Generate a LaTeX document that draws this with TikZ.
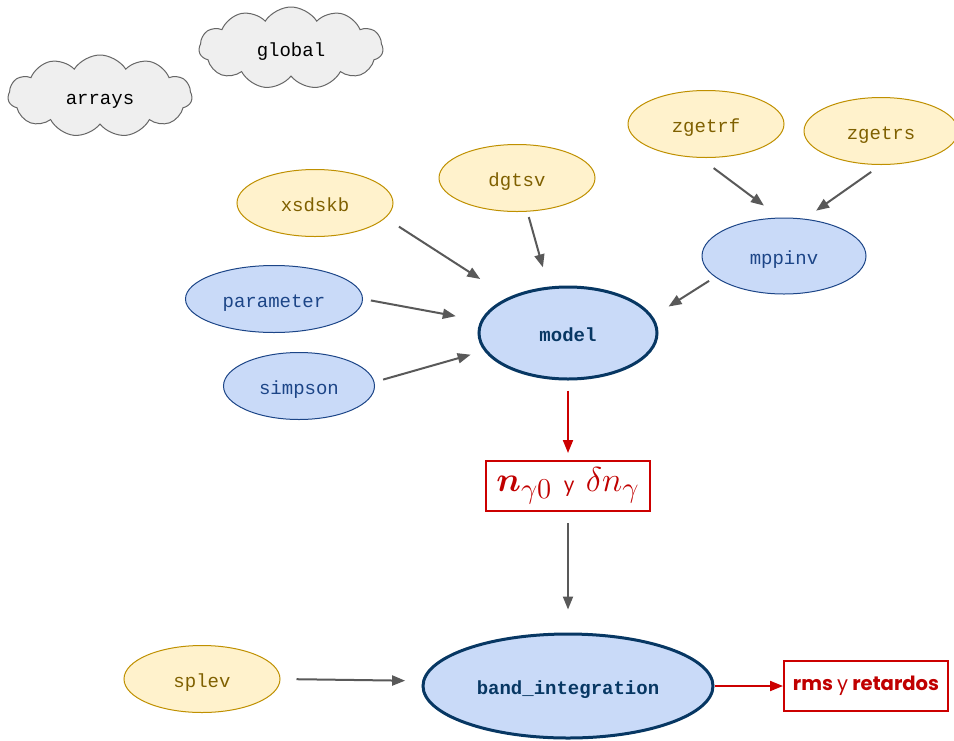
\documentclass[tikz,border=0pt]{standalone}
\usepackage{amsmath,amssymb}
\usepackage{fontspec}
\setmonofont{Liberation Mono}
\newfontfamily\poppins{Poppins}
\usepackage{tikz}
\usetikzlibrary{arrows.meta,shapes.geometric,shapes.symbols}
\definecolor{routfill}{RGB}{255,242,204}
\definecolor{routdraw}{RGB}{191,144,0}
\definecolor{routtext}{RGB}{127,96,0}
\definecolor{modfill}{RGB}{201,218,248}
\definecolor{moddraw}{RGB}{28,69,135}
\definecolor{navyblue}{RGB}{7,55,99}
\definecolor{cloudfill}{RGB}{239,239,239}
\definecolor{clouddraw}{RGB}{102,102,102}
\definecolor{darkred}{RGB}{192,0,0}
\definecolor{boxred}{RGB}{204,0,0}
\definecolor{arrowgray}{RGB}{89,89,89}
\tikzset{
  routine/.style={ellipse, draw=routdraw, fill=routfill, text=routtext, line width=0.5pt,
                  inner sep=0pt, minimum width=78pt, minimum height=33.5pt,
                  text height=10pt, text depth=2pt,
                  font=\ttfamily\fontsize{9.5}{11}\selectfont},
  subrout/.style={routine, draw=moddraw, fill=modfill, text=moddraw},
  mainrout/.style={subrout, draw=navyblue, text=navyblue, line width=1.5pt,
                   font=\ttfamily\bfseries\fontsize{9.5}{11}\selectfont},
  datacloud/.style={cloud, cloud puffs=11, cloud puff arc=115, aspect=2.2, draw=clouddraw,
                    fill=cloudfill, line width=0.5pt, inner sep=0pt, minimum width=92pt,
                    minimum height=41pt, text height=10pt, text depth=2pt,
                    font=\ttfamily\fontsize{9.5}{11}\selectfont},
  resbox/.style={rectangle, draw=boxred, text=darkred, line width=1pt, inner sep=0pt,
                 minimum width=82pt, minimum height=25pt},
  arrow/.style={-{Triangle[length=6.5pt,width=5pt]}, line width=1pt, arrowgray},
  arrowred/.style={arrow, boxred},
}

\begin{document}
\begin{tikzpicture}[x=0.5pt, y=-0.5pt]
\useasboundingbox (0,0) rectangle (954,740);

% common blocks
\node[datacloud] (arrays) at (100,96) {arrays};
\node[datacloud] (global) at (291,48) {global};

% library routines
\node[routine] (zgetrf) at (706,124) {zgetrf};
\node[routine, minimum width=77pt] (zgetrs) at (881,131) {zgetrs};
\node[routine] (dgtsv) at (517,178) {dgtsv};
\node[routine] (xsdskb) at (315,203) {xsdskb};
\node[routine] (splev) at (202,679) {splev};

% own routines
\node[subrout, minimum width=82pt, minimum height=38pt] (mppinv) at (784,256) {mppinv};
\node[subrout, minimum width=88.5pt] (parameter) at (274,299) {parameter};
\node[subrout, minimum width=75.5pt] (simpson) at (299,386) {simpson};
\node[mainrout, minimum width=89pt, minimum height=46pt] (model) at (568,333) {model};
\node[mainrout, minimum width=145pt, minimum height=52pt] (band) at (568,686) {band\_integration};

% results
\node[resbox] (ngamma) at (568,486) {\fontsize{19}{22}\selectfont$\boldsymbol{n}_{\gamma 0}$\
  {\poppins\fontsize{9.5}{11}\selectfont y}\ $\delta n_{\gamma}$};
\node[resbox] (rms) at (866,686) {\poppins\fontsize{9.8}{12}\selectfont\bfseries rms
  {\mdseries y} retardos};

\draw[arrow, shorten <=8.5pt, shorten >=10pt] (zgetrf.260) -- (mppinv.96);
\draw[arrow, shorten <=6pt, shorten >=7pt] (zgetrs.270) -- (mppinv.61);
\draw[arrow, shorten <=3.5pt, shorten >=9.3pt] (mppinv.197) -- (model.11);
\draw[arrow, shorten <=8pt, shorten >=16.8pt] (xsdskb.348) -- (model.149);
\draw[arrow, shorten <=2.8pt, shorten >=10pt] (dgtsv.287) -- (model.113);
\draw[arrow, shorten <=4pt, shorten >=12.6pt] (parameter.0) -- (model.172);
\draw[arrow, shorten <=4.5pt, shorten >=7pt] (simpson.3) -- (model.192);
\draw[arrowred, shorten <=5pt, shorten >=3.5pt] (model.south) -- (ngamma.north);
\draw[arrow, shorten <=5.5pt, shorten >=11.5pt] (ngamma.south) -- (band.north);
\draw[arrow, shorten <=8pt, shorten >=8.5pt] (splev.east) -- (band.178);
\draw[arrowred] (band.east) -- (rms.west);
\end{tikzpicture}
\end{document}
